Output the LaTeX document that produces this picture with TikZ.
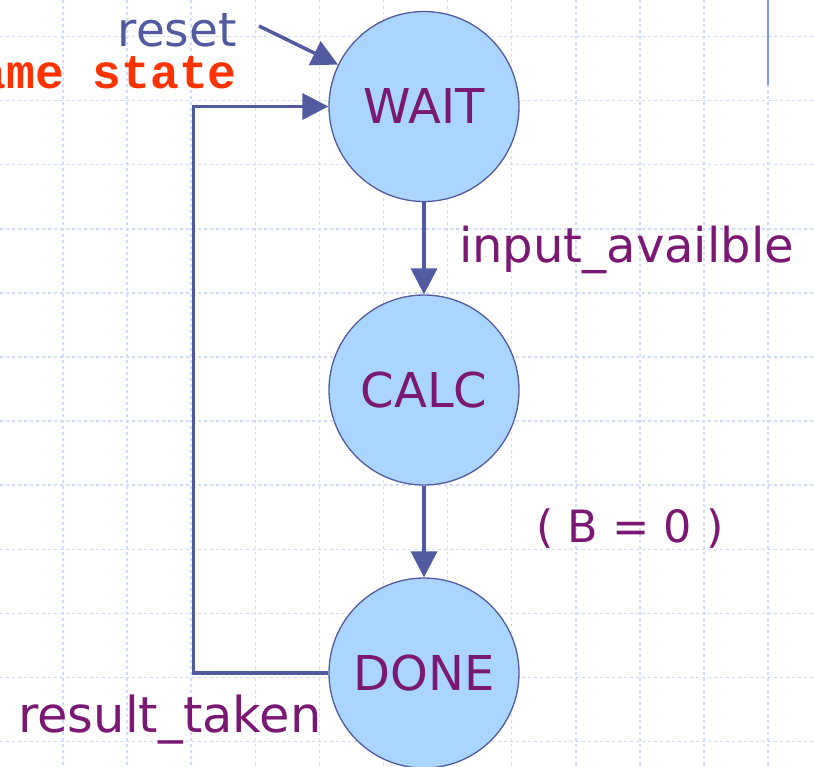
\documentclass[tikz,border=0pt]{standalone}
\usepackage{fontspec}
\setmainfont{DejaVu Sans}
\newfontfamily\codefont{Liberation Mono}
\usetikzlibrary{arrows.meta}
\definecolor{gridblue}{RGB}{208,220,250}
\definecolor{edgeblue}{RGB}{82,90,160}
\definecolor{statefill}{RGB}{170,213,255}
\definecolor{labelpurple}{RGB}{122,24,116}
\definecolor{codered}{RGB}{255,51,0}
\definecolor{markblue}{RGB}{120,150,235}
\begin{document}
\begin{tikzpicture}[x=1pt,y=-1pt,
  state/.style={circle, draw=edgeblue, line width=1.3pt, fill=statefill,
    minimum size=190pt, inner sep=0pt, text=labelpurple,
    font=\fontsize{48}{48}\selectfont},
  trans/.style={draw=edgeblue, line width=3.5pt,
    -{Triangle[length=26pt,width=26pt]}},
  lbl/.style={text=labelpurple, font=\fontsize{48}{48}\selectfont, inner sep=0pt},
  gridline/.style={gridblue, line width=1.5pt, dash pattern=on 3pt off 3pt}]
  \useasboundingbox (0,0) rectangle (814,766);
  \clip (0,0) rectangle (814,766);
  % background grid
  \foreach \k in {0,...,11} {
    \draw[gridline] (63+64.1*\k,0) -- (63+64.1*\k,766);
    \draw[gridline] (0,36.5+64.1*\k) -- (814,36.5+64.1*\k);
  }
  % short solid marker at the top right
  \draw[markblue, line width=2pt] (768,0) -- (768,85);

  % states
  \node[state] (wait) at (424,106.5) {WAIT};
  \node[state] (calc) at (424,390) {CALC};
  \node[state] (done) at (424,673) {DONE};

  % labels
  \node[anchor=base east, inner sep=0pt, text=edgeblue,
    font=\fontsize{47}{47}\selectfont] (resetlbl) at (237,46) {reset};
  \node[anchor=base east, inner sep=0pt, text=codered,
    font=\codefont\bfseries\fontsize{48}{48}\selectfont] (samelbl) at (237,88) {ame state};
  \node[lbl, anchor=base west] (inlbl) at (459,262) {input\_availble};
  \node[lbl, anchor=base west, font=\fontsize{44.5}{44.5}\selectfont]
    (blbl) at (536,542) {( B = 0 )};
  \node[lbl, anchor=base west, font=\fontsize{49.5}{49.5}\selectfont]
    (reslbl) at (18,732) {result\_taken};

  % transitions
  \coordinate (rs) at (259,26);
  \draw[trans] (rs) -- (wait.154);
  \draw[trans] (wait) -- (calc);
  \draw[trans] (calc) -- (done);
  \draw[trans] (done.west) -- ++(-135,0) |- (wait.west);
\end{tikzpicture}
\end{document}
